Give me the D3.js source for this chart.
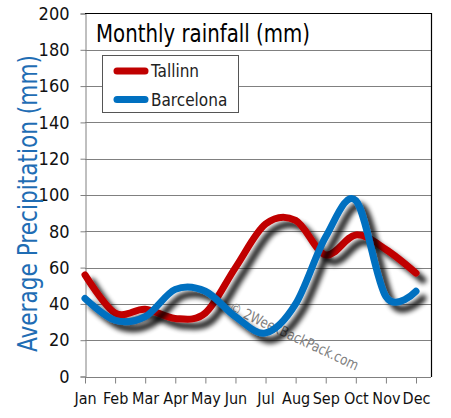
<!DOCTYPE html>
<html><head><meta charset="utf-8">
<script src="https://cdn.jsdelivr.net/npm/d3@7"></script>
<style>
html,body{margin:0;padding:0;background:#fff;}
svg{display:block;}
</style></head>
<body>
<script>
const months = ["Jan","Feb","Mar","Apr","May","Jun","Jul","Aug","Sep","Oct","Nov","Dec"];
const tallinn = [56, 35, 37, 32, 35, 60, 84, 86, 67, 78, 70, 57];
const barcelona = [43, 31, 33, 48, 47, 33, 24, 40, 77, 97, 44, 47];
const yTicks = [0, 20, 40, 60, 80, 100, 120, 140, 160, 180, 200];
const seriesNames = ["Tallinn", "Barcelona"];
const colors = ["#c00000", "#0070c0"];
const titleText = "Monthly rainfall (mm)";
const yTitle = "Average Precipitation (mm)";
const watermark = "\u00a9 2WeekBackPack.com";

(function(){
const W = 451, H = 418;
const pLeft = 85, pRight = 431, pTop = 13.5, pBottom = 376.5;
const font = "'Liberation Sans Narrow','DejaVu Sans Condensed','Liberation Sans',sans-serif";

const svg = d3.select("body").append("svg").attr("width", W).attr("height", H);

const defs = svg.append("defs");
const f = defs.append("filter").attr("id","shadow").attr("x","-20%").attr("y","-20%").attr("width","140%").attr("height","140%");
f.append("feGaussianBlur").attr("in","SourceAlpha").attr("stdDeviation",2.5).attr("result","b");
f.append("feOffset").attr("in","b").attr("dx",7).attr("dy",7).attr("result","o");
f.append("feComponentTransfer").attr("in","o").attr("result","o2")
  .append("feFuncA").attr("type","linear").attr("slope",0.85);
const m = f.append("feMerge");
m.append("feMergeNode").attr("in","o2");
m.append("feMergeNode").attr("in","SourceGraphic");

const x = d3.scalePoint().domain(months).range([pLeft, 416]);
const y = d3.scaleLinear().domain([0, 200]).range([pBottom, pTop]);

// gridlines
svg.append("g").selectAll("line").data(yTicks.filter(d => d > 0 && d < 200)).join("line")
  .attr("x1", pLeft).attr("x2", pRight)
  .attr("y1", d => Math.round(y(d)) + 0.5).attr("y2", d => Math.round(y(d)) + 0.5)
  .attr("stroke", "#808080").attr("stroke-width", 1);

// y axis
const yAxis = svg.append("g").attr("transform", `translate(${pLeft + 0.5},0)`)
  .call(d3.axisLeft(y).tickValues(yTicks).tickSize(5).tickPadding(11).tickFormat(d3.format("d")));
yAxis.select(".domain").attr("stroke", "#808080");
yAxis.selectAll(".tick line").attr("stroke", "#808080");
yAxis.selectAll(".tick text").attr("font-family", font).attr("font-size", 18).attr("fill", "#111");

// x axis
const xAxis = svg.append("g").attr("transform", `translate(0,${Math.round(pBottom)+0.5})`)
  .call(d3.axisBottom(x).tickSize(6).tickPadding(9));
xAxis.select(".domain").attr("d", `M${pLeft},0H${pRight}`).attr("stroke", "#808080");
xAxis.selectAll(".tick line").attr("stroke", "#808080");
xAxis.selectAll(".tick text").attr("font-family", font).attr("font-size", 16).attr("fill", "#111");

// top & right border
svg.append("path").attr("d", `M${pLeft},${pTop}H${pRight+0.5}V${pBottom+0.5}`)
  .attr("fill","none").attr("stroke","#000").attr("stroke-width",1.2);

// watermark
svg.append("text").attr("transform", "translate(228,311) rotate(25)")
  .attr("font-family","'DejaVu Sans','Verdana',sans-serif").attr("font-size",14.5)
  .attr("fill","#808080").attr("textLength",141).attr("lengthAdjust","spacingAndGlyphs")
  .text(watermark);

// lines
const line = d3.line().x((d, i) => x(months[i])).y(d => y(d)).curve(d3.curveCatmullRom.alpha(0));
[tallinn, barcelona].forEach((s, i) => {
  svg.append("path").datum(s).attr("d", line)
    .attr("fill","none").attr("stroke", colors[i]).attr("stroke-width", 7)
    .attr("stroke-linecap","round").attr("stroke-linejoin","round")
    .attr("filter","url(#shadow)");
});

// title
svg.append("text").attr("x", 96).attr("y", 41.5)
  .attr("font-family", font).attr("font-size", 25).attr("fill","#000")
  .attr("textLength", 214).attr("lengthAdjust","spacingAndGlyphs")
  .text(titleText);

// legend
const lg = svg.append("g");
lg.append("rect").attr("x",102.5).attr("y",55.5).attr("width",136).attr("height",57)
  .attr("fill","#fff").attr("stroke","#555").attr("stroke-width",1);
seriesNames.forEach((n, i) => {
  const yy = [71, 99.5][i];
  lg.append("line").attr("x1",117).attr("x2",145).attr("y1",yy).attr("y2",yy)
    .attr("stroke",colors[i]).attr("stroke-width",7).attr("stroke-linecap","round");
  lg.append("text").attr("x",151).attr("y",yy+6).attr("font-family",font).attr("font-size",17)
    .attr("fill","#222").text(n);
});

// y axis title
svg.append("text").attr("transform","translate(37,203.5) rotate(-90)")
  .attr("text-anchor","middle").attr("font-family", font).attr("font-size",27)
  .attr("fill","#1f6db4").attr("textLength",297).attr("lengthAdjust","spacingAndGlyphs")
  .text(yTitle);
})();
</script>
</body></html>
